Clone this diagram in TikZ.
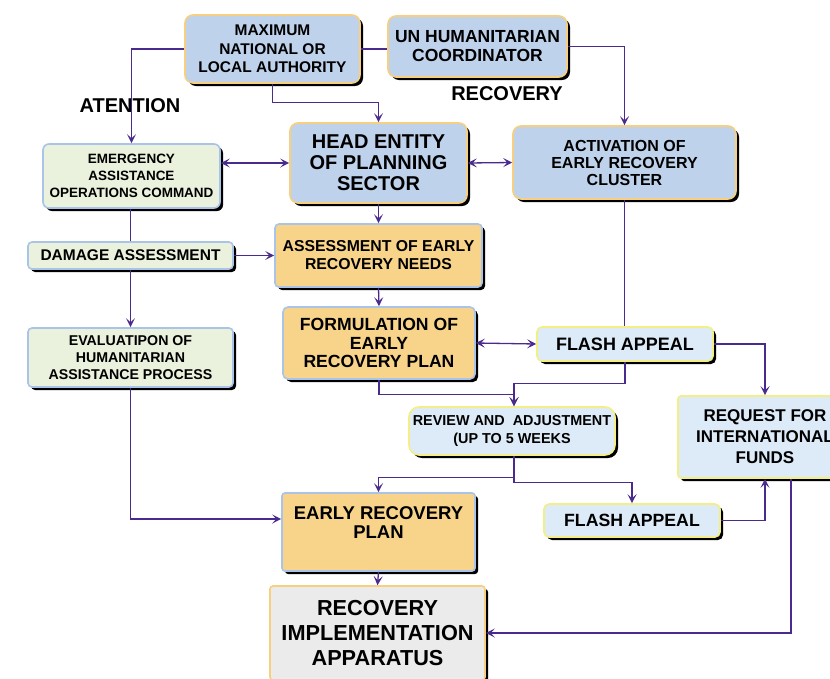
\documentclass[tikz,border=0pt]{standalone}
\usepackage{fontspec}
\setmainfont{Liberation Sans}
\usepackage{xcolor}
\usetikzlibrary{arrows.meta,shadows}

\definecolor{boxblue}{HTML}{BFD2EC}
\definecolor{boxgreen}{HTML}{EAF1DC}
\definecolor{boxorange}{HTML}{F8D48B}
\definecolor{boxpale}{HTML}{DDEBF8}
\definecolor{boxgray}{HTML}{EBEBEB}
\definecolor{edgeorange}{HTML}{F7CF7E}
\definecolor{edgeblue}{HTML}{A9C4E8}
\definecolor{edgeyellow}{HTML}{F4EE86}
\definecolor{linkpurple}{HTML}{4A2A8C}

\begin{document}
\begin{tikzpicture}[x = 1pt, y = -1pt,
  box/.style = {line width = 1.6pt, align = center, inner sep = 1pt,
    font = \bfseries,
    drop shadow = {shadow xshift = 3pt, shadow yshift = -3pt, opacity = 1, fill = black}},
  bluebox/.style = {box, fill = boxblue, draw = edgeorange, rounded corners = 8pt},
  greenbox/.style = {box, fill = boxgreen, draw = edgeblue, rounded corners = 6pt},
  orangebox/.style = {box, fill = boxorange, draw = edgeblue, rounded corners = 4pt},
  palebox/.style = {box, fill = boxpale, draw = edgeyellow, rounded corners = 5pt},
  graybox/.style = {box, fill = boxgray, draw = edgeorange, rounded corners = 3pt},
  tip/.tip = {Stealth[open, length = 9pt, width = 9pt, inset = 4pt]},
  link/.style = {draw = linkpurple, line width = 1.3pt, -tip},
  twolink/.style = {link, tip-tip},
  plain/.style = {draw = linkpurple, line width = 1.3pt},
  heading/.style = {font = \bfseries\fontsize{20}{22}\selectfont}]
\useasboundingbox (0,0) rectangle (830,678);
\clip (0,0) rectangle (830,678);

% top row
\node [bluebox, minimum width = 175pt, minimum height = 68pt, font = \bfseries\fontsize{15.5}{18.5}\selectfont]
  (authority) at (272.5,49) {MAXIMUM\\NATIONAL OR\\LOCAL AUTHORITY};
\node [bluebox, minimum width = 179pt, minimum height = 61pt, font = \bfseries\fontsize{17.5}{19}\selectfont]
  (coordinator) at (477.5,46.5) {UN HUMANITARIAN\\COORDINATOR};

% planning column
\node [bluebox, minimum width = 177pt, minimum height = 80pt, font = \bfseries\fontsize{20}{21}\selectfont]
  (head) at (378.5,163) {HEAD ENTITY\\OF PLANNING\\SECTOR};
\node [bluebox, minimum width = 223pt, minimum height = 73pt, font = \bfseries\fontsize{16}{17}\selectfont]
  (cluster) at (624.5,162.5) {ACTIVATION OF\\EARLY RECOVERY\\CLUSTER};
\node [orangebox, minimum width = 207pt, minimum height = 63pt, font = \bfseries\fontsize{15.8}{18}\selectfont]
  (needs) at (378.5,255.5) {ASSESSMENT OF EARLY\\RECOVERY NEEDS};
\node [orangebox, rounded corners = 5pt, minimum width = 192pt, minimum height = 72pt, font = \bfseries\fontsize{17.6}{18.5}\selectfont]
  (formulation) at (379,343) {FORMULATION OF\\EARLY\\RECOVERY PLAN};
\node [orangebox, rounded corners = 3pt, minimum width = 193pt, minimum height = 78pt, font = \bfseries\fontsize{18.5}{19}\selectfont]
  (plan) at (378.5,532) {EARLY RECOVERY\\PLAN\\~};
\node [graybox, minimum width = 215pt, minimum height = 94pt, font = \bfseries\fontsize{21.7}{25}\selectfont]
  (apparatus) at (377.5,633) {RECOVERY\\IMPLEMENTATION\\APPARATUS};

% attention column
\node [greenbox, minimum width = 177pt, minimum height = 64pt, font = \bfseries\fontsize{13.5}{17}\selectfont]
  (command) at (131.5,176) {EMERGENCY\\ASSISTANCE\\OPERATIONS COMMAND};
\node [greenbox, rounded corners = 4pt, minimum width = 205pt, minimum height = 27pt, font = \bfseries\fontsize{15.5}{17}\selectfont]
  (damage) at (130.5,255.5) {DAMAGE ASSESSMENT};
\node [greenbox, rounded corners = 4pt, minimum width = 205pt, minimum height = 59pt, font = \bfseries\fontsize{14.2}{17}\selectfont]
  (evaluation) at (130.5,357.5) {EVALUATIPON OF\\HUMANITARIAN\\ASSISTANCE PROCESS};

% appeals and funds
\node [palebox, minimum width = 176pt, minimum height = 34pt, font = \bfseries\fontsize{18}{20}\selectfont]
  (appealA) at (625,344) {FLASH APPEAL};
\node [palebox, rounded corners = 10pt, minimum width = 206pt, minimum height = 48pt, font = \bfseries\fontsize{14.4}{18}\selectfont]
  (review) at (512,431) {REVIEW AND~~ADJUSTMENT\\(UP TO 5 WEEKS};
\node [palebox, rounded corners = 3pt, minimum width = 174pt, minimum height = 82pt, font = \bfseries\fontsize{17}{21}\selectfont]
  (funds) at (765,437) {REQUEST FOR\\INTERNATIONAL\\FUNDS};
\node [palebox, minimum width = 176pt, minimum height = 33pt, font = \bfseries\fontsize{17.7}{20}\selectfont]
  (appealB) at (632,520.5) {FLASH APPEAL};

% connectors
\draw [link] (authority.west) -| (command.north);
\draw [link] (authority.south) -- ++(0,19) -| (head.north);
\draw [plain] (authority.east) -- (authority.east -| coordinator.west);
\draw [link] (coordinator.east) -| (cluster.north);
\draw [twolink] (head.west -| command.east) -- (head.west);
\draw [twolink] (head.east) -- (cluster.west);
\draw [link] (head.south) -- (needs.north);
\draw [plain] (command.south -| damage.north) -- (damage.north);
\draw [link] (damage.east) -- (needs.west);
\draw [link] (damage.south) -- (evaluation.north);
\draw [link] (needs.south) -- (formulation.north);
\draw [twolink] (formulation.east) -- (appealA.west);
\draw [plain] (cluster.south) -- (cluster.south |- appealA.north);
\draw [link] (appealA.south) -- ++(0,22) -| ([xshift = 2pt]review.north);
\draw [link] (formulation.south) -- ++(0,15) -| ([xshift = 2pt]review.north);
\draw [link] (appealA.east) -| (funds.north);
\draw [link] ([xshift = 2pt]review.south) -- ++(0,22) -| (plan.north);
\draw [link] ([xshift = 2pt]review.south) -- ++(0,27) -| (appealB.north);
\draw [link] (evaluation.south) |- ([yshift = 13pt]plan.west);
\draw [link] (plan.south) -- (apparatus.north);
\draw [link] (appealB.east) -| (funds.south);
\draw [link] ([xshift = 26pt]funds.south) |- (apparatus.east);

% phase labels
\node [heading] (attention) at (130,106) {ATENTION};
\node [heading] (recovery) at (507,94) {RECOVERY};
\end{tikzpicture}
\end{document}
